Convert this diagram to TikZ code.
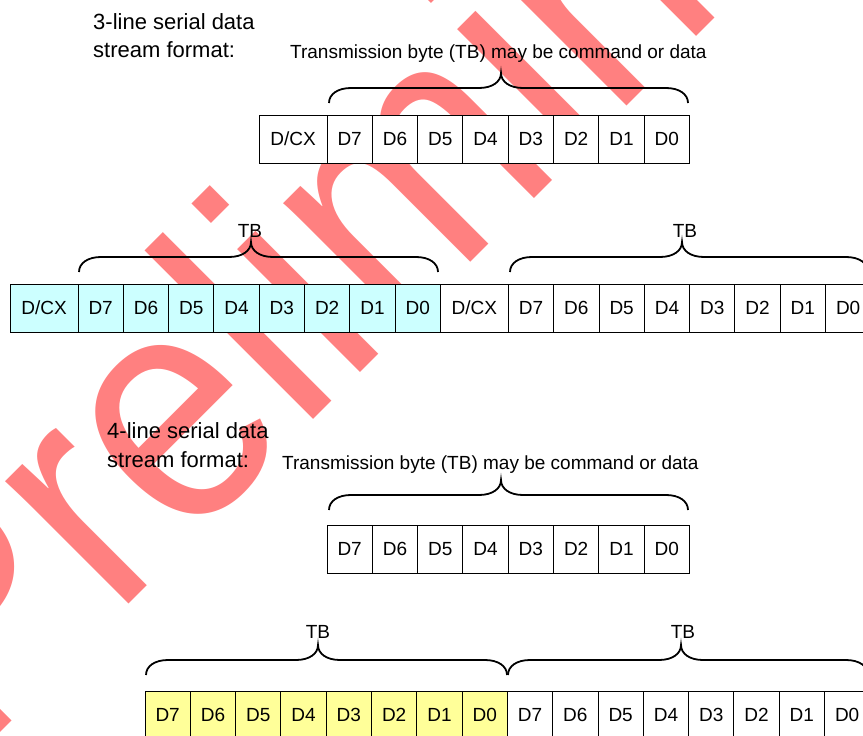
\documentclass[tikz,border=0pt]{standalone}
\usepackage{fontspec}
\setmainfont{Liberation Sans}
\usetikzlibrary{positioning}
\definecolor{wmred}{RGB}{255,128,128}
\definecolor{cellcyan}{RGB}{204,255,255}
\definecolor{cellyellow}{RGB}{255,255,153}
\newcommand{\tbbrace}[4]{%
  \draw[bracestyle] (#1,#4) .. controls (#1,{#4-9}) and ({#1+9},{#4-15}) .. ({#1+22},{#4-15})
    -- ({#3-22},{#4-15}) .. controls ({#3-9},{#4-15}) and (#3,{#4-21}) .. (#3,{#4-30})
    .. controls (#3,{#4-21}) and ({#3+9},{#4-15}) .. ({#3+22},{#4-15})
    -- ({#2-22},{#4-15}) .. controls ({#2-9},{#4-15}) and (#2,{#4-9}) .. (#2,#4);}
\begin{document}
\begin{tikzpicture}[x=1pt,y=-1pt,
  cell/.style={draw=black, line width=1pt, fill=white, minimum width=45.3pt,
    minimum height=48pt, inner sep=0pt, outer sep=0pt, font=\fontsize{19}{19}\selectfont},
  wide/.style={cell, minimum width=68pt},
  cy/.style={fill=cellcyan},
  ye/.style={fill=cellyellow},
  hdr/.style={inner sep=0pt, anchor=base west, font=\fontsize{22}{22}\selectfont},
  lbl/.style={inner sep=0pt, font=\fontsize{19}{19}\selectfont},
  bracestyle/.style={line width=1.8pt, black},
  wm/.style={inner sep=0pt, text=wmred, font=\fontsize{329}{329}\selectfont}]
\path[use as bounding box] (0,0) rectangle (863,736);
\clip (0,0) rectangle (863,736);
% watermark
\node[wm, rotate=45, anchor=base west] (wmark) at (-25,758) {\scalebox{0.897}[1]{Preliminary}};
% ---------- 3-line ----------
\node[hdr] (h1a) at (93,29) {3-line serial data};
\node[hdr] (h1b) at (93,57) {stream format:};
\node[lbl, anchor=base west] (t1) at (290,58) {Transmission byte (TB) may be command or data};
% row 1
\node[wide] (a0) at (293,139) {D/CX};
\node[cell, right=0pt of a0] (a1) {D7};
\node[cell, right=0pt of a1] (a2) {D6};
\node[cell, right=0pt of a2] (a3) {D5};
\node[cell, right=0pt of a3] (a4) {D4};
\node[cell, right=0pt of a4] (a5) {D3};
\node[cell, right=0pt of a5] (a6) {D2};
\node[cell, right=0pt of a6] (a7) {D1};
\node[cell, right=0pt of a7] (a8) {D0};
\tbbrace{329}{688}{501}{103}
% row 2
\node[wide, cy] (b0) at (44,308) {D/CX};
\node[cell, cy, right=0pt of b0] (b1) {D7};
\node[cell, cy, right=0pt of b1] (b2) {D6};
\node[cell, cy, right=0pt of b2] (b3) {D5};
\node[cell, cy, right=0pt of b3] (b4) {D4};
\node[cell, cy, right=0pt of b4] (b5) {D3};
\node[cell, cy, right=0pt of b5] (b6) {D2};
\node[cell, cy, right=0pt of b6] (b7) {D1};
\node[cell, cy, right=0pt of b7] (b8) {D0};
\node[wide, right=0pt of b8] (c0) {D/CX};
\node[cell, right=0pt of c0] (c1) {D7};
\node[cell, right=0pt of c1] (c2) {D6};
\node[cell, right=0pt of c2] (c3) {D5};
\node[cell, right=0pt of c3] (c4) {D4};
\node[cell, right=0pt of c4] (c5) {D3};
\node[cell, right=0pt of c5] (c6) {D2};
\node[cell, right=0pt of c6] (c7) {D1};
\node[cell, right=0pt of c7] (c8) {D0};
\tbbrace{79}{438}{251}{272}
\tbbrace{510}{868}{682}{272}
\node[lbl, anchor=base] (tb1) at (250,237) {TB};
\node[lbl, anchor=base] (tb2) at (685,237) {TB};
% ---------- 4-line ----------
\node[hdr] (h2a) at (107,438) {4-line serial data};
\node[hdr] (h2b) at (107,467) {stream format:};
\node[lbl, anchor=base west] (t2) at (282,469) {Transmission byte (TB) may be command or data};
% row 3
\node[cell] (d1) at (349.65,549) {D7};
\node[cell, right=0pt of d1] (d2) {D6};
\node[cell, right=0pt of d2] (d3) {D5};
\node[cell, right=0pt of d3] (d4) {D4};
\node[cell, right=0pt of d4] (d5) {D3};
\node[cell, right=0pt of d5] (d6) {D2};
\node[cell, right=0pt of d6] (d7) {D1};
\node[cell, right=0pt of d7] (d8) {D0};
\tbbrace{329}{688}{501}{510}
% row 4
\node[cell, ye] (e1) at (167.65,715) {D7};
\node[cell, ye, right=0pt of e1] (e2) {D6};
\node[cell, ye, right=0pt of e2] (e3) {D5};
\node[cell, ye, right=0pt of e3] (e4) {D4};
\node[cell, ye, right=0pt of e4] (e5) {D3};
\node[cell, ye, right=0pt of e5] (e6) {D2};
\node[cell, ye, right=0pt of e6] (e7) {D1};
\node[cell, ye, right=0pt of e7] (e8) {D0};
\node[cell, right=0pt of e8] (f1) {D7};
\node[cell, right=0pt of f1] (f2) {D6};
\node[cell, right=0pt of f2] (f3) {D5};
\node[cell, right=0pt of f3] (f4) {D4};
\node[cell, right=0pt of f4] (f5) {D3};
\node[cell, right=0pt of f5] (f6) {D2};
\node[cell, right=0pt of f6] (f7) {D1};
\node[cell, right=0pt of f7] (f8) {D0};
\tbbrace{146}{507}{318}{675}
\tbbrace{508}{868}{681}{675}
\node[lbl, anchor=base] (tb3) at (318,638) {TB};
\node[lbl, anchor=base] (tb4) at (683,638) {TB};
\end{tikzpicture}
\end{document}
